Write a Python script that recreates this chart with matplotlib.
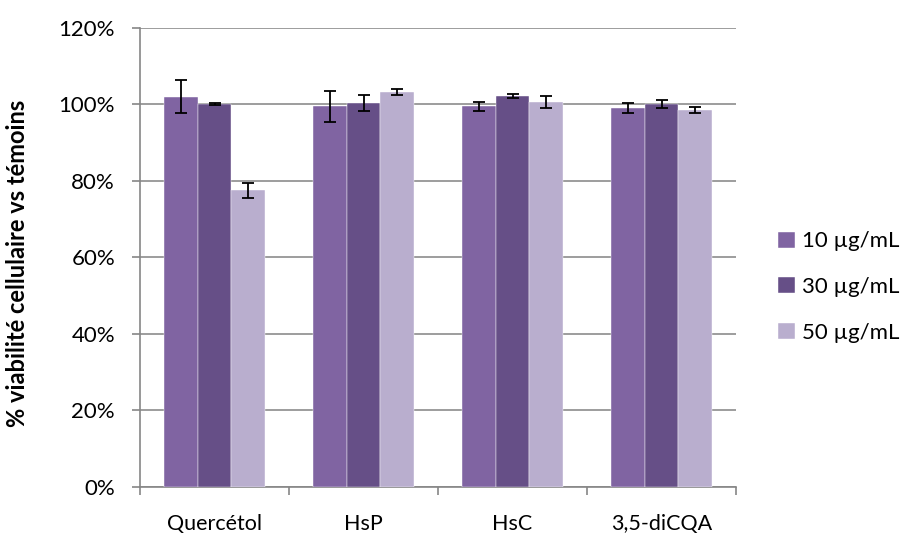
import matplotlib
matplotlib.use("Agg")
import matplotlib.pyplot as plt
import numpy as np
from matplotlib.ticker import FuncFormatter, MultipleLocator

plt.rcParams['font.family'] = ['Lato', 'DejaVu Sans']

categories = ["Quercétol", "HsP", "HsC", "3,5-diCQA"]
series_labels = ["10 µg/mL", "30 µg/mL", "50 µg/mL"]
v10 = [102.0, 99.4, 99.4, 99.0]
v30 = [100.0, 100.3, 102.1, 100.0]
v50 = [77.5, 103.2, 100.6, 98.4]
e10 = [4.4, 4.0, 1.1, 1.4]
e30 = [0.2, 2.1, 0.55, 1.1]
e50 = [2.0, 0.8, 1.5, 0.8]
colors = ["#8064A2", "#664F87", "#B9AECE"]

fig = plt.figure(figsize=(9.05, 5.4), dpi=100)
ax = fig.add_axes([0.1547, 0.0987, 0.6586, 0.85])

x = np.arange(len(categories))
w = 0.224
for i, (vals, errs) in enumerate(zip([v10, v30, v50], [e10, e30, e50])):
    ax.bar(x + (i - 1) * w, vals, width=w, color=colors[i], label=series_labels[i],
           edgecolor='white', linewidth=0.3, zorder=3)
    ax.errorbar(x + (i - 1) * w, vals, yerr=errs, fmt='none', ecolor='black',
                elinewidth=1.3, capsize=4.3, capthick=1.3, zorder=4)

ax.set_xlim(-0.5, len(categories) - 0.5)
ax.set_ylim(0, 120)
ax.yaxis.set_major_locator(MultipleLocator(20))
ax.yaxis.set_major_formatter(FuncFormatter(lambda v, p: f"{int(v)}%"))
ax.set_xticks(x)
ax.set_xticklabels(categories)
ax.set_xticks(np.arange(-0.5, len(categories)), minor=True)
ax.tick_params(axis='x', which='major', length=0, pad=20, labelsize=15.5)
ax.tick_params(axis='x', which='minor', length=6, color='#868686', width=1.2)
ax.tick_params(axis='y', length=6, color='#868686', width=1.2, labelsize=16, pad=12)
ax.grid(axis='y', color='#8c8c8c', linewidth=1.2, zorder=0)
for s in ['top', 'right']:
    ax.spines[s].set_visible(False)
for s in ['left', 'bottom']:
    ax.spines[s].set_color('#868686')
    ax.spines[s].set_linewidth(1.2)

fig.text(18 / 905, 0.512, "% viabilité cellulaire vs témoins", rotation=90,
         ha='center', va='center', fontsize=17, fontweight='bold')

fig.legend(loc='center left', bbox_to_anchor=(0.86, 0.4685), frameon=False, fontsize=16,
           handlelength=0.75, handleheight=0.75, handletextpad=0.3, labelspacing=1.15,
           borderpad=0, borderaxespad=0)

fig.savefig("out.png", dpi=100)
